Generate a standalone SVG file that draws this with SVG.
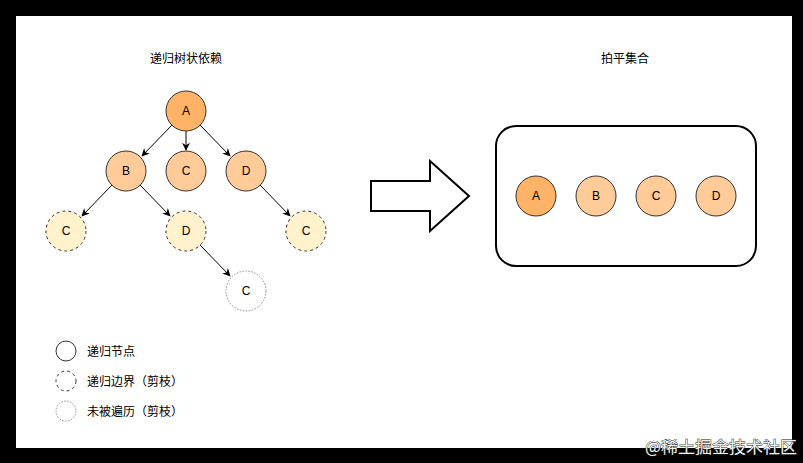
<svg xmlns="http://www.w3.org/2000/svg" width="803" height="463" viewBox="0 0 803 463">
<style>
.lbl{font-family:"Liberation Sans",Arial,sans-serif;font-size:12px;fill:#000;text-anchor:middle;dominant-baseline:central}
.cjk{font-family:"Noto Sans CJK SC","Liberation Sans",sans-serif;font-size:12px;fill:#000}
.n1{fill:#FFB366;stroke:#333;stroke-width:1}
.n2{fill:#FFCC99;stroke:#333;stroke-width:1}
.n3{fill:#FFF2CC;stroke:#333;stroke-width:1;stroke-dasharray:3 3}
.n4{fill:#fff;stroke:#888;stroke-width:1;stroke-dasharray:1.5 1.5}
.edge{stroke:#000;stroke-width:1;fill:none;marker-end:url(#ah)}
</style>
<defs>
<marker id="ah" viewBox="0 0 10 10" refX="9" refY="5" markerWidth="8" markerHeight="8" markerUnits="userSpaceOnUse" orient="auto">
<path d="M0,0 L10,5 L0,10 L3,5 Z" fill="#000"/>
</marker>
</defs>
<rect x="0" y="0" width="803" height="463" fill="#000"/>
<rect x="16" y="16" width="776" height="432" fill="#fff"/>
<text class="cjk" x="186" y="63" text-anchor="middle">递归树状依赖</text>
<text class="cjk" x="625" y="63" text-anchor="middle">拍平集合</text>
<g id="connectors">
<line class="edge" x1="172" y1="125" x2="142" y2="156"/>
<line class="edge" x1="186" y1="131" x2="186" y2="150"/>
<line class="edge" x1="200" y1="125" x2="230" y2="156"/>
<line class="edge" x1="112" y1="185" x2="82" y2="216"/>
<line class="edge" x1="140" y1="185" x2="170" y2="216"/>
<line class="edge" x1="260" y1="185" x2="290" y2="216"/>
<line class="edge" x1="200" y1="245" x2="230" y2="276"/>
</g>
<g id="tA"><circle class="n1" cx="186" cy="111" r="20"/><text class="lbl" x="186" y="111">A</text></g>
<g id="tB"><circle class="n2" cx="126" cy="171" r="20"/><text class="lbl" x="126" y="171">B</text></g>
<g id="tC"><circle class="n2" cx="186" cy="171" r="20"/><text class="lbl" x="186" y="171">C</text></g>
<g id="tD"><circle class="n2" cx="246" cy="171" r="20"/><text class="lbl" x="246" y="171">D</text></g>
<g id="tBC"><circle class="n3" cx="66" cy="231" r="20"/><text class="lbl" x="66" y="231">C</text></g>
<g id="tBD"><circle class="n3" cx="186" cy="231" r="20"/><text class="lbl" x="186" y="231">D</text></g>
<g id="tDC"><circle class="n3" cx="306" cy="231" r="20"/><text class="lbl" x="306" y="231">C</text></g>
<g id="tBDC"><circle class="n4" cx="246" cy="291" r="20"/><text class="lbl" x="246" y="291">C</text></g>
<g id="legend1"><circle cx="66" cy="351" r="10" fill="#fff" stroke="#333" stroke-width="1"/><text class="cjk" x="87" y="355.5">递归节点</text></g>
<g id="legend2"><circle cx="66" cy="381" r="10" fill="#fff" stroke="#333" stroke-width="1" stroke-dasharray="3 3"/><text class="cjk" x="87" y="385.5">递归边界（剪枝）</text></g>
<g id="legend3"><circle cx="66" cy="411" r="10" fill="#fff" stroke="#888" stroke-width="1" stroke-dasharray="1.5 1.5"/><text class="cjk" x="87" y="415.5">未被遍历（剪枝）</text></g>
<g id="bigArrow"><polygon points="371,181 430,181 430,161 469,196 430,231 430,211 371,211" fill="#fff" stroke="#000" stroke-width="2" stroke-linejoin="miter"/></g>
<g id="flatBox"><rect x="496" y="126" width="260" height="140" rx="20" ry="20" fill="#fff" stroke="#000" stroke-width="2"/></g>
<g id="fA"><circle class="n1" cx="536" cy="196" r="20"/><text class="lbl" x="536" y="196">A</text></g>
<g id="fB"><circle class="n2" cx="596" cy="196" r="20"/><text class="lbl" x="596" y="196">B</text></g>
<g id="fC"><circle class="n2" cx="656" cy="196" r="20"/><text class="lbl" x="656" y="196">C</text></g>
<g id="fD"><circle class="n2" cx="716" cy="196" r="20"/><text class="lbl" x="716" y="196">D</text></g>
<text x="645" y="453" font-family="Noto Sans CJK SC,sans-serif" font-size="16" fill="#eee" stroke="#222" stroke-width="0.8" paint-order="stroke" textLength="152" lengthAdjust="spacingAndGlyphs">@稀土掘金技术社区</text>
</svg>
